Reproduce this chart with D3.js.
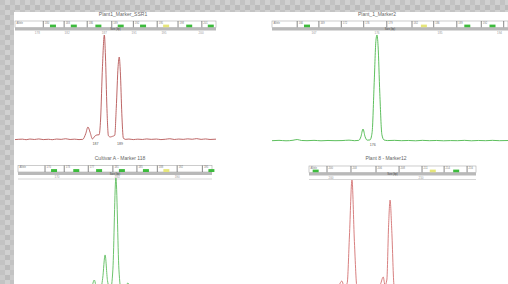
<!DOCTYPE html>
<head>
  <meta charset="utf-8">
  <script src="https://d3js.org/d3.v7.min.js"></script>
  <style>
    body { margin:0; background:#fff; }
    svg { display:block; font-family:"Liberation Sans", Arial, sans-serif; }
  </style>
</head>
<body>
<script>
// ---- data ----
// panel 1 : red trace, two peaks 187 / 189
var p1Title = "Plant1_Marker_SSR1",
    p1Domain = [175, 202],
    p1Ticks = [178, 182, 187, 191, 195, 200],
    p1Bins = [178.8, 181.6, 184.7, 188.0, 190.9, 194.1, 196.9, 200.1],
    p1BinNames = ["Allele", "180", "183", "186", "189", "192", "195", "198", "201"],
    p1Marks = [180.1, 182.9, 186.2, 189.2, 192.2, 195.3, 198.4, 201.3],
    p1MarkCol = ["g", "g", "g", "g", "g", "y", "g", "g"],
    p1Bp  = [175,176,176.5,177,177.6,178.2,178.8,179.5,180,180.6,181.2,181.8,182.4,183,183.6,184.1,184.5,184.8,185.1,185.4,185.7,186,186.3,186.5,186.75,187,187.15,187.35,187.55,187.8,188.1,188.4,188.6,188.85,189,189.15,189.35,189.55,189.8,190.3,190.9,191.5,192.1,192.7,193.3,194,194.6,195.2,195.8,196.4,197,197.6,198.2,198.8,199.4,200,200.6,201.2,202],
    p1Rfu = [4,8,3,9,5,10,4,7,3,9,6,12,5,8,4,6,60,124,70,10,35,48,50,200,700,1000,800,300,40,29,35,45,300,700,790,650,250,20,6,9,4,8,5,10,6,9,4,7,12,5,9,6,11,7,13,6,10,5,8],
    p1Peaks = ["187", "189"],
    p1PeakBp = [185.8, 189.1];

// panel 2 : green trace, one peak 176
var p2Title = "Plant_1_Marker2",
    p2Domain = [161, 195],
    p2Ticks = [167, 176, 185, 193.5],
    p2Bins = [164.6, 167.7, 170.9, 174.1, 177.4, 181.0, 184.1, 187.4, 190.9, 194.1],
    p2BinNames = ["Allele", "166", "169", "172", "176", "179", "182", "186", "189", "192"],
    p2Marks = [166.0, 182.7, 188.9, 192.5],
    p2MarkCol = ["g", "y", "g", "g"],
    p2Bp  = [161,162,163,164,164.6,165.2,166,167,168,169,170,171,172,172.8,173.4,173.7,174,174.3,174.6,175,175.3,175.6,175.85,176,176.15,176.4,176.7,177,177.5,178.5,179.5,180.5,181.5,182.5,183.5,184.5,185.5,186.5,187.5,188.5,189.5,190.5,191.5,192.5,193.5,195],
    p2Rfu = [3,6,2,7,14,5,3,6,2,5,3,4,8,3,6,40,113,40,8,10,80,550,950,1000,900,450,60,10,4,6,3,5,2,6,3,5,2,4,3,6,2,5,3,6,3,5],
    p2Peaks = ["176"],
    p2PeakBp = [175.4];

// panel 3 : green trace, baseline below the picture
var p3Title = "Cultivar A - Marker 118",
    p3Domain = [163.5, 195.8],
    p3Ticks = [170, 180, 190],
    p3Bins = [168.0, 171.2, 175.2, 179.3, 183.3, 186.7, 190.0, 194.2],
    p3BinNames = ["Allele", "170", "173", "177", "181", "185", "188", "192", "195"],
    p3Marks = [169.5, 173.2, 177.0, 180.8, 184.8, 188.2, 195.7],
    p3MarkCol = ["g", "g", "g", "g", "g", "y", "g"],
    p3Bp  = [163.5,175,175.6,176.2,176.7,177.2,177.6,178,178.4,178.9,179.3,179.8,180.3,180.7,181.2,181.8,182.3,183,195.8],
    p3Rfu = [0,0,10,105,10,15,120,325,100,20,200,1000,200,15,20,79,10,0,0];

// panel 4 : pink trace, two peaks
var p4Title = "Plant 8 - Marker12",
    p4Domain = [197.56, 216.1],
    p4Ticks = [200, 210],
    p4Bins = [199.56, 202.22, 205.0, 207.56, 210.11, 212.56, 215.11],
    p4BinNames = ["Allele", "200", "203", "206", "208", "211", "214", "216"],
    p4Marks = [198.3, 211.3, 213.9],
    p4MarkCol = ["g", "y", "g"],
    p4Bp  = [197.56,200.5,200.9,201.2,201.5,201.8,202.05,202.33,202.6,202.9,203.3,205,205.5,205.8,206.0,206.2,206.4,206.56,206.75,207.0,207.3,208,216.1],
    p4Rfu = [0,0,60,98,40,80,500,1000,450,30,0,0,70,134,60,107,600,821,550,60,0,0,0];

// ---- drawing ----
var width = 508, height = 284;
var svg = d3.select("body").append("svg").attr("width", width).attr("height", height);

var defs = svg.append("defs");
var pat = defs.append("pattern").attr("id", "chk").attr("width", 10).attr("height", 10)
  .attr("patternUnits", "userSpaceOnUse");
[["#c3c3c3",0,0],["#d1d1d1",5,0],["#cbcbcb",0,5],["#bcbcbc",5,5]].forEach(function(s){
  pat.append("rect").attr("x", s[1]).attr("y", s[2]).attr("width", 5).attr("height", 5).attr("fill", s[0]);
});
svg.append("rect").attr("width", width).attr("height", height).attr("fill", "url(#chk)");
svg.append("rect").attr("x", 14).attr("y", 12).attr("width", width - 14).attr("height", height - 12).attr("fill", "#fff");

var markColor = {g: "#3dbb3d", y: "#e6e67a"};

function panel(c) {
  var x = d3.scaleLinear().domain(c.domain).range([c.x0, c.x1]);
  var y = d3.scaleLinear().domain([0, 1000]).range([c.yBase, c.yTop]);
  var g = svg.append("g");
  var right = Math.min(c.x1, width);

  g.append("text").attr("x", c.tx).attr("y", c.ty).attr("text-anchor", "middle")
    .attr("font-size", 5).attr("fill", "#666").text(c.title);

  // bin strip
  g.append("rect").attr("x", c.x0).attr("y", c.sy).attr("width", right - c.x0).attr("height", 6.5)
    .attr("fill", "#fff").attr("stroke", "#aaa").attr("stroke-width", 0.6);
  g.selectAll(".div").data(c.bins).enter().append("line")
    .attr("x1", function(d){ return x(d); }).attr("x2", function(d){ return x(d); })
    .attr("y1", c.sy).attr("y2", c.sy + 6.5).attr("stroke", "#555").attr("stroke-width", 0.7);
  var starts = [c.domain[0]].concat(c.bins);
  g.selectAll(".bn").data(c.binNames).enter().append("text")
    .attr("x", function(d, i){ return x(starts[i]) + 1.5; }).attr("y", c.sy + 2.6)
    .attr("font-size", 2.6).attr("fill", "#777").text(function(d){ return d; });
  g.selectAll(".mk").data(c.marks).enter().append("rect")
    .attr("x", function(d){ return x(d) - 3; }).attr("y", c.sy + 3.6)
    .attr("width", 6).attr("height", 2.9)
    .attr("fill", function(d, i){ return markColor[c.markCol[i]]; });

  // gray band
  g.append("rect").attr("x", c.x0).attr("y", c.sy + 6.5).attr("width", right - c.x0).attr("height", 3)
    .attr("fill", "#b9b9b9");
  g.append("text").attr("x", (c.x0 + right) / 2).attr("y", c.sy + 9).attr("text-anchor", "middle")
    .attr("font-size", 2.6).attr("fill", "#444").text("Size (bp)");

  // ticks
  g.selectAll(".tk").data(c.ticks).enter().append("text")
    .attr("x", function(d){ return x(d); }).attr("y", c.sy + 12.5).attr("text-anchor", "middle")
    .attr("font-size", 3).attr("fill", "#999").text(function(d){ return Math.round(d); });
  if (c.rule) {
    g.append("line").attr("x1", c.x0).attr("x2", right).attr("y1", c.sy + 13.5).attr("y2", c.sy + 13.5)
      .attr("stroke", "#ccc").attr("stroke-width", 0.8);
  }

  // trace
  var pts = c.bp.map(function(d, i){ return [d, c.rfu[i]]; });
  var line = d3.line().x(function(d){ return x(d[0]); }).y(function(d){ return y(d[1]); })
    .curve(d3.curveMonotoneX);
  g.append("path").attr("d", line(pts)).attr("fill", "none")
    .attr("stroke", c.color).attr("stroke-width", 0.9);

  if (c.peaks) {
    g.selectAll(".pk").data(c.peaks).enter().append("text")
      .attr("x", function(d, i){ return x(c.peakBp[i]); }).attr("y", c.yBase + 5)
      .attr("text-anchor", "middle").attr("font-size", 3.6).attr("fill", "#555")
      .text(function(d){ return d; });
  }
}

panel({title: p1Title, domain: p1Domain, ticks: p1Ticks, bins: p1Bins, binNames: p1BinNames,
  marks: p1Marks, markCol: p1MarkCol, bp: p1Bp, rfu: p1Rfu, peaks: p1Peaks, peakBp: p1PeakBp,
  x0: 15, x1: 216, yBase: 140, yTop: 35, sy: 21, tx: 123, ty: 16, color: "#b55555"});
panel({title: p2Title, domain: p2Domain, ticks: p2Ticks, bins: p2Bins, binNames: p2BinNames,
  marks: p2Marks, markCol: p2MarkCol, bp: p2Bp, rfu: p2Rfu, peaks: p2Peaks, peakBp: p2PeakBp,
  x0: 272, x1: 510, yBase: 141, yTop: 35, sy: 21, tx: 377, ty: 16, color: "#4cb84c"});
panel({title: p3Title, domain: p3Domain, ticks: p3Ticks, bins: p3Bins, binNames: p3BinNames,
  marks: p3Marks, markCol: p3MarkCol, bp: p3Bp, rfu: p3Rfu,
  x0: 18, x1: 212, yBase: 292, yTop: 178, sy: 165.5, tx: 120, ty: 160, color: "#5cbc5c", rule: true});
panel({title: p4Title, domain: p4Domain, ticks: p4Ticks, bins: p4Bins, binNames: p4BinNames,
  marks: p4Marks, markCol: p4MarkCol, bp: p4Bp, rfu: p4Rfu,
  x0: 309, x1: 476, yBase: 292, yTop: 180, sy: 166, tx: 386, ty: 160, color: "#d27070", rule: true});
</script>
</body>
